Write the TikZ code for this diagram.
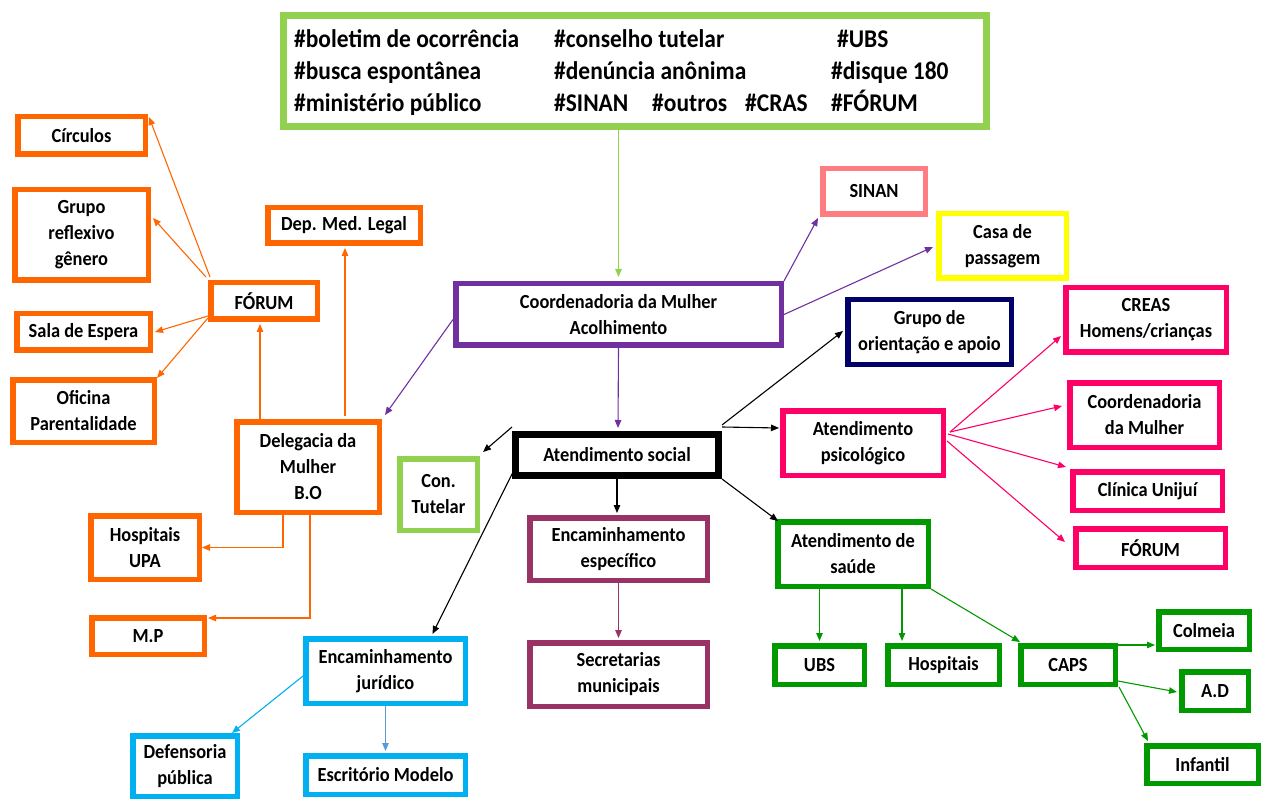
\documentclass[tikz,border=0pt]{standalone}
\usepackage{fontspec}
\setmainfont{Carlito}[FakeStretch=0.92]
\usetikzlibrary{calc,arrows.meta}
\definecolor{cOr}{HTML}{FF6600}
\definecolor{cLg}{HTML}{92D050}
\definecolor{cPu}{HTML}{7030A0}
\definecolor{cMa}{HTML}{993366}
\definecolor{cBl}{HTML}{00B0F0}
\definecolor{cBl2}{HTML}{5B9BD5}
\definecolor{cSa}{HTML}{FF7C80}
\definecolor{cYe}{HTML}{FFFF00}
\definecolor{cNa}{HTML}{000066}
\definecolor{cPk}{HTML}{FF0066}
\definecolor{cDg}{HTML}{009900}
\tikzset{
  bx/.style={draw=#1, line width=5.5pt, inner sep=0pt, align=center, fill=white,
    font=\fontsize{20}{26}\selectfont\bfseries},
  wh/.style n args={2}{minimum width=#1pt, minimum height=#2pt},
  tagtxt/.style={anchor=base west, inner sep=0pt, font=\fontsize{25.5}{32}\selectfont\bfseries},
  ar/.style={draw=#1, line width=1.1pt, -{Triangle[length=8pt,width=6.5pt]}},
}
\begin{document}
\begin{tikzpicture}[x=1pt,y=-1pt]
\useasboundingbox (0,0) rectangle (1263,799);
% top box
\node[draw=cLg, line width=7pt, wh={703}{111}] (top) at (635,71) {};
\node[tagtxt] (t1) at (294,48) {\#boletim de ocorrência};
\node[tagtxt] (t2) at (554,48) {\#conselho tutelar};
\node[tagtxt] (t3) at (837,48) {\#UBS};
\node[tagtxt] (t4) at (294,80) {\#busca espontânea};
\node[tagtxt] (t5) at (554,80) {\#denúncia anônima};
\node[tagtxt] (t6) at (831,80) {\#disque 180};
\node[tagtxt] (t7) at (294,112) {\#ministério público};
\node[tagtxt] (t8) at (554,112) {\#SINAN};
\node[tagtxt] (t9) at (652,112) {\#outros};
\node[tagtxt] (t10) at (745,112) {\#CRAS};
\node[tagtxt] (t11) at (831,112) {\#FÓRUM};
% orange
\node[bx=cOr, wh={127.5}{37.5}] (circ) at (81.5,135.5) {Círculos};
\node[bx=cOr, wh={133.5}{90.5}] (grupo) at (81.5,235) {Grupo\\reflexivo\\gênero};
\node[bx=cOr, wh={133.5}{36.5}] (sala) at (83.5,332) {Sala de Espera};
\node[bx=cOr, wh={141.5}{62.5}] (ofic) at (83.5,411) {Oficina\\Parentalidade};
\node[bx=cOr, wh={106.5}{36.5}] (forumL) at (264,301) {FÓRUM};
\node[bx=cOr, wh={152.5}{35.5}] (dml) at (344,225.5) {Dep. Med. Legal};
\node[bx=cOr, wh={142.5}{90.5}] (deleg) at (308,467) {Delegacia da\\Mulher\\B.O};
\node[bx=cOr, wh={108.5}{63.5}] (hosp) at (145,547.5) {Hospitais\\UPA};
\node[bx=cOr, wh={112.5}{36.5}] (mp) at (148,636) {M.P};
% centre
\node[bx=cLg, wh={77.5}{71.5}] (ct) at (438.5,494.5) {Con.\\Tutelar};
\node[bx=cPu, wh={325.5}{61.5}] (coord) at (618.5,314.5) {Coordenadoria da Mulher\\Acolhimento};
\node[bx=black, line width=7pt, wh={203}{41}] (as) at (617,455) {Atendimento social};
\node[bx=cMa, wh={177.5}{62.5}] (ee) at (618.5,549) {Encaminhamento\\específico};
\node[bx=cMa, wh={177.5}{63.5}] (sm) at (618.5,674.5) {Secretarias\\municipais};
\node[bx=cBl, wh={159.5}{64.5}] (ej) at (385.5,671) {Encaminhamento\\jurídico};
\node[bx=cBl, wh={104.5}{60.5}] (dp) at (185,766) {Defensoria\\pública};
\node[bx=cBl, wh={159.5}{38.5}] (em) at (385.5,775) {Escritório Modelo};
% right
\node[bx=cSa, wh={102.5}{45.5}] (sinan) at (874,191.5) {SINAN};
\node[bx=cYe, wh={127.5}{64.5}] (casa) at (1002.5,246) {Casa de\\passagem};
\node[bx=cNa, wh={163.5}{64.5}] (grp) at (929.5,332) {Grupo de\\orientação e apoio};
\node[bx=cPk, wh={160.5}{64.5}] (creas) at (1146,320) {CREAS\\Homens/crianças};
\node[bx=cPk, wh={160.5}{64.5}] (ap) at (863,443) {Atendimento\\psicológico};
\node[bx=cPk, wh={149.5}{64.5}] (cmp) at (1144.5,415) {Coordenadoria\\da Mulher};
\node[bx=cPk, wh={149.5}{38.5}] (cu) at (1147.5,491) {Clínica Unijuí};
\node[bx=cPk, wh={149.5}{38.5}] (fp) at (1150.5,548) {FÓRUM};
% green
\node[bx=cDg, wh={150.5}{64.5}] (sa) at (853,554) {Atendimento de\\saúde};
\node[bx=cDg, wh={89.5}{38.5}] (ubs) at (819.5,665) {UBS};
\node[bx=cDg, wh={111.5}{38.5}] (hos) at (943.5,665) {Hospitais};
\node[bx=cDg, wh={94.5}{38.5}] (caps) at (1068,665) {CAPS};
\node[bx=cDg, wh={90.5}{37.5}] (col) at (1204,630.5) {Colmeia};
\node[bx=cDg, wh={66.5}{38.5}] (ad) at (1215,691) {A.D};
\node[bx=cDg, wh={111.5}{37.5}] (inf) at (1202.5,764.5) {Infantil};
% connectors
\draw[ar=cLg] (top.south -| coord.north) -- ($(coord.north)+(0,-4)$);
\draw[ar=cPu] ($(coord.west)+(0,5)$) -- ($(deleg.north east)+(3,-4)$);
\draw[ar=cPu] (coord.north east) -- ($(sinan.south west)+(-2,1)$);
\draw[ar=cPu] (coord.east) -- ($(casa.west)+(-3,1)$);
\draw[ar=cPu] (coord.south) -- ($(as.north)+(1,-3)$);
\draw[ar=black] ($(as.north west)+(0,-4)$) -- ($(ct.north east)+(3,-4)$);
\draw[ar=black] ($(as.south west)+(1,-7)$) -- ($(ej.north)+(47,-2)$);
\draw[ar=black] (as.south) -- ($(ee.north)+(-1.5,-2)$);
\draw[ar=black] ($(as.north east)+(0,-6)$) -- ($(grp.west)+(-2,-1)$);
\draw[ar=black] ($(as.north east)+(0,-4)$) -- ($(ap.west)+(-1,-15)$);
\draw[ar=black] (as.south east) -- ($(sa.north west)+(3,2)$);
\draw[ar=cMa] (ee.south) -- ($(sm.north)+(0,-2)$);
\draw[ar=cBl] ($(ej.west)+(0,5)$) -- ($(dp.north east)+(-8,0)$);
\draw[ar=cBl2] (ej.south) -- ($(em.north)+(0,-2)$);
\draw[ar=cPk] ($(ap.east)+(4,-11)$) -- ($(creas.west)+(-2,16)$);
\draw[ar=cPk] ($(ap.east)+(4,-11)$) -- ($(cmp.west)+(-5,-9)$);
\draw[ar=cPk] ($(ap.east)+(2,-9)$) -- ($(cu.north west)+(-4,-2)$);
\draw[ar=cPk] ($(ap.east)+(1,-2)$) -- ($(fp.west)+(-8,-6)$);
\draw[ar=cDg] (sa.south -| ubs.north) -- ($(ubs.north)+(0,-2)$);
\draw[ar=cDg] ($(sa.south)+(49,0)$) -- ($(hos.north)+(-41.5,-2)$);
\draw[ar=cDg] (sa.south east) -- ($(caps.north west)+(2,-1)$);
\draw[ar=cDg] ($(caps.north east)+(0,2)$) -- ($(col.south west)+(-1,-7)$);
\draw[ar=cDg] ($(caps.east)+(0,16)$) -- ($(ad.west)+(-2,1)$);
\draw[ar=cDg] ($(caps.south east)+(1,0)$) -- ($(inf.north west)+(4,-2)$);
\draw[ar=cOr] ($(forumL.north west)+(2,-3)$) -- ($(circ.north east)+(1,3)$);
\draw[ar=cOr] ($(forumL.north west)+(-2,-3)$) -- ($(grupo.east)+(2,-17)$);
\draw[ar=cOr] ($(forumL.south west)+(0,-6)$) -- ($(sala.east)+(2,0)$);
\draw[ar=cOr] ($(forumL.south west)+(0,-4)$) -- ($(ofic.north east)+(0,1)$);
\draw[ar=cOr] ($(deleg.north west)+(26,0)$) -- ($(forumL.south)+(-4,2)$);
\draw[ar=cOr] ($(deleg.north)+(37,-3)$) -- ($(dml.south)+(1,2)$);
\draw[ar=cOr] ($(deleg.south)+(-25,0)$) |- (hosp.east);
\draw[ar=cOr] ($(deleg.south)+(2,0)$) |- ($(mp.north east)+(1,3)$);
\end{tikzpicture}
\end{document}
